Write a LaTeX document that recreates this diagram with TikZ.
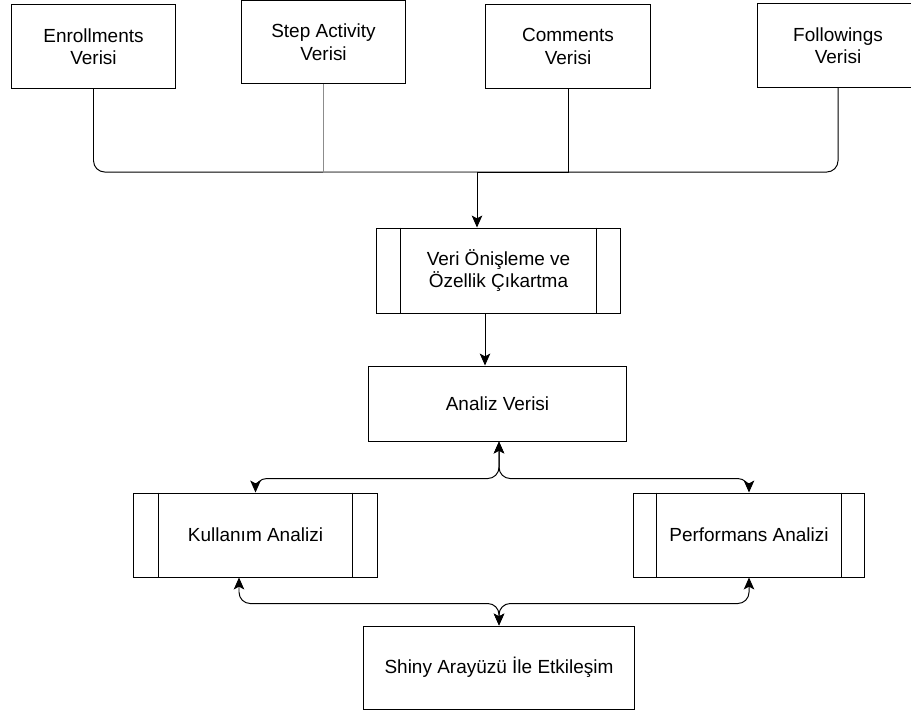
\documentclass[tikz,border=0pt]{standalone}
\usepackage{fontspec}
\setmainfont{Liberation Sans}
\usetikzlibrary{arrows.meta,positioning,calc}

\begin{document}
\begin{tikzpicture}[x=0.025cm,y=-0.025cm,
  box/.style={draw, line width=0.7pt, align=center, inner sep=0pt, font=\fontsize{13.5}{16}\selectfont},
  link/.style={line width=0.7pt, rounded corners=8},
  tip/.style={-{Stealth[length=8.5pt,width=7.5pt,inset=2pt]}},
  tips/.style={{Stealth[length=8.5pt,width=7.5pt,inset=2pt]}-{Stealth[length=8.5pt,width=7.5pt,inset=2pt]}}]
\useasboundingbox (0,0) rectangle (911,713);
% Data sources
\foreach \n/\x/\y/\w/\t in {enr/93.5/46.5/4.075/Enrollments, step/323.5/42/4.075/Step Activity, com/568/46.5/4.1/Comments, fol/838/45.5/4.05/Followings} {
  \node[box, minimum width=\w cm, minimum height=2.08cm] (\n) at (\x,\y) {\t\\Verisi};
}
% Processing chain
\node[box, minimum width=6.075cm, minimum height=2.125cm] (pre) at (498.5,270.5) {Veri Önişleme ve\\Özellik Çıkartma};
\node[box, minimum width=6.425cm, minimum height=1.875cm] (ana) at (497.5,403.5) {Analiz Verisi};
\node[box, minimum width=6.075cm, minimum height=2.1cm] (kul) at (255.5,535) {Kullanım Analizi};
\node[box, minimum width=5.75cm, minimum height=2.1cm] (perf) at (749,535) {Performans Analizi};
\node[box, minimum width=6.75cm, minimum height=2.075cm] (shiny) at (499,667.5) {Shiny Arayüzü İle Etkileşim};
% Side bars of process boxes
\foreach \n/\g in {pre/24,kul/25,perf/23} {
  \draw[line width=0.7pt] ($(\n.north west)+(\g,0)$) -- ($(\n.south west)+(\g,0)$);
  \draw[line width=0.7pt] ($(\n.north east)+(-\g,0)$) -- ($(\n.south east)+(-\g,0)$);
}
% Merge of the sources
\coordinate (bus) at (477,172);
\foreach \n in {enr,fol} \draw[link] (\n.south) |- (bus);
\draw[line width=0.7pt] (com.south) |- (bus);
\draw[line width=0.7pt, black!45] (step.south) |- (bus);
\draw[link, tip] (bus) -- (bus |- pre.north);
\draw[link, tip] ($(pre.south)+(-13.5,0)$) -- ($(ana.north)+(-12.5,0)$);
% Analyses
\draw[link, tips] ($(ana.south)+(1.5,0)$) |- ($(kul.north)+(0,-14)$) -- (kul.north);
\draw[link, tips] ($(ana.south)+(1.5,0)$) |- ($(perf.north)+(0,-14)$) -- (perf.north);
\draw[link, tips] (shiny.north) |- ($(kul.south)+(-16.5,26)$) -- ($(kul.south)+(-16.5,0)$);
\draw[link, tips] (shiny.north) |- ($(perf.south)+(0,26)$) -- (perf.south);
\end{tikzpicture}
\end{document}
